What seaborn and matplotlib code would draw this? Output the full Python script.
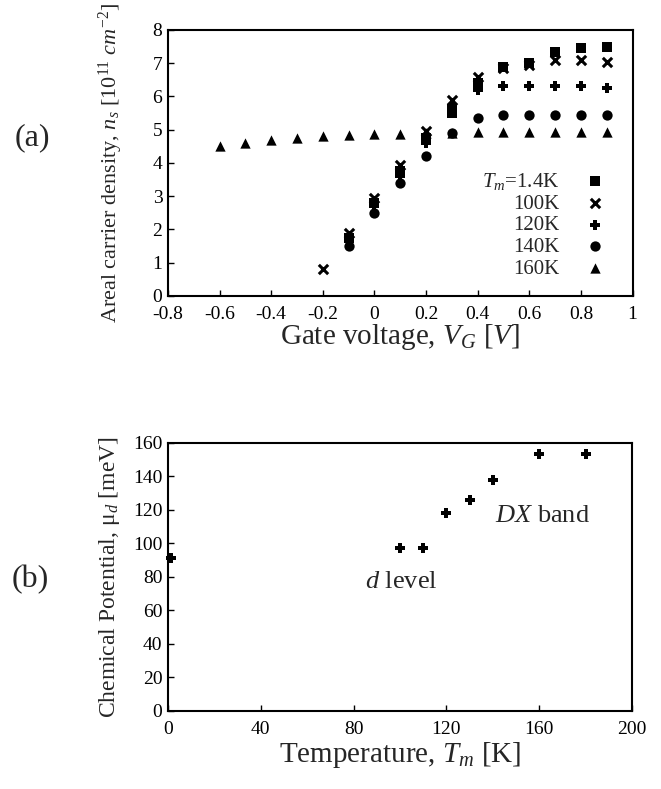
import matplotlib
matplotlib.use("Agg")
import matplotlib.pyplot as plt
import seaborn as sns

# --- (a) carrier density vs gate voltage, one list per cooling temperature ---
vg_14 = [-0.1, 0.0, 0.1, 0.2, 0.3, 0.4, 0.5, 0.6, 0.7, 0.8, 0.9]
ns_14 = [1.75, 2.8, 3.75, 4.75, 5.5, 6.4, 6.9, 7.0, 7.35, 7.45, 7.5]
vg_100 = [-0.2, -0.1, 0.0, 0.1, 0.2, 0.3, 0.4, 0.5, 0.6, 0.7, 0.8, 0.9]
ns_100 = [0.8, 1.9, 2.95, 3.95, 4.95, 5.9, 6.6, 6.85, 6.95, 7.1, 7.1, 7.05]
vg_120 = [-0.1, 0.0, 0.1, 0.2, 0.3, 0.4, 0.5, 0.6, 0.7, 0.8, 0.9]
ns_120 = [1.7, 2.7, 3.6, 4.6, 5.7, 6.2, 6.3, 6.3, 6.3, 6.3, 6.25]
vg_140 = [-0.1, 0.0, 0.1, 0.2, 0.3, 0.4, 0.5, 0.6, 0.7, 0.8, 0.9]
ns_140 = [1.5, 2.5, 3.4, 4.2, 4.9, 5.35, 5.45, 5.45, 5.45, 5.45, 5.45]
vg_160 = [-0.6, -0.5, -0.4, -0.3, -0.2, -0.1, 0.0, 0.1, 0.2, 0.3, 0.4, 0.5, 0.6, 0.7, 0.8, 0.9]
ns_160 = [4.5, 4.6, 4.7, 4.75, 4.8, 4.85, 4.87, 4.88, 4.9, 4.9, 4.93, 4.93, 4.93, 4.93, 4.93, 4.93]

labels_a = [r"$T_m$=1.4K", "100K", "120K", "140K", "160K"]

# --- (b) chemical potential vs cooling temperature ---
temp_b = [1.4, 100, 110, 120, 130, 140, 160, 180]
mu_b = [91, 97, 97, 118, 126, 138, 153, 153]

sns.set_style("ticks")
plt.rcParams['font.family'] = ['Liberation Serif', 'DejaVu Serif']
plt.rcParams['mathtext.fontset'] = 'custom'
plt.rcParams['mathtext.rm'] = 'Liberation Serif'
plt.rcParams['mathtext.it'] = 'Liberation Serif:italic'
plt.rcParams['axes.unicode_minus'] = False
plt.rcParams['xtick.direction'] = 'in'
plt.rcParams['ytick.direction'] = 'in'

fig = plt.figure(figsize=(6.61, 7.89), dpi=100)
ax1 = fig.add_axes([0.254, 0.625, 0.703, 0.337])
ax2 = fig.add_axes([0.254, 0.099, 0.702, 0.340])

series = [
    (vg_14, ns_14, 's', 50, 0),
    (vg_100, ns_100, 'x', 45, 2.2),
    (vg_120, ns_120, 'P', 55, 0),
    (vg_140, ns_140, 'o', 55, 0),
    (vg_160, ns_160, '^', 55, 0),
]
for (xs, ys, mk, size, lw), lab in zip(series, labels_a):
    sns.scatterplot(x=xs, y=ys, marker=mk, s=size, color='black',
                    linewidth=lw, edgecolor='black', label=lab, ax=ax1, zorder=3)

ax1.set_xlim(-0.8, 1.0)
ax1.set_ylim(0, 8)
ax1.set_xticks([-0.8, -0.6, -0.4, -0.2, 0, 0.2, 0.4, 0.6, 0.8, 1.0])
ax1.set_xticklabels(["-0.8", "-0.6", "-0.4", "-0.2", "0", "0.2", "0.4", "0.6", "0.8", "1"])
ax1.set_yticks(range(0, 9))
ax1.set_xlabel(r"Gate voltage, $V_G$ [$V$]", fontsize=21)
ax1.set_ylabel(r"Areal carrier density, $n_s$ [10$^{11}$ $cm^{-2}$]", fontsize=16)
ax1.xaxis.set_label_coords(0.5, -0.1)
ax1.yaxis.set_label_coords(-0.092, 0.5)
ax1.legend(loc='upper right', bbox_to_anchor=(0.942, 0.47), frameon=False,
           markerfirst=False, fontsize=15, handlelength=1.0, handletextpad=1.2,
           labelspacing=0.1, borderpad=0, borderaxespad=0)

sns.scatterplot(x=temp_b, y=mu_b, marker='P', s=55, color='black', linewidth=0,
                ax=ax2, zorder=3, clip_on=False)
ax2.set_xlim(0, 200)
ax2.set_ylim(0, 160)
ax2.set_xticks(range(0, 201, 40))
ax2.set_yticks(range(0, 161, 20))
ax2.set_xlabel(r"Temperature, $T_m$ [K]", fontsize=21)
ax2.set_ylabel(r"Chemical Potential, μ$_d$ [meV]", fontsize=17)
ax2.xaxis.set_label_coords(0.5, -0.11)
ax2.yaxis.set_label_coords(-0.099, 0.5)
ax2.text(85, 77, r"$d$ level", fontsize=19, va='center', ha='left')
ax2.text(141, 116, r"$DX$ band", fontsize=19, va='center', ha='left')

for ax in (ax1, ax2):
    for sp in ax.spines.values():
        sp.set_linewidth(1.5)
        sp.set_color('black')
    ax.tick_params(labelsize=14, length=4, width=1, colors='black')
    ax.tick_params(axis='x', pad=7)
    ax.tick_params(axis='y', pad=4)

fig.text(15 / 661, 1 - 138 / 789, "(a)", fontsize=23, va='center', ha='left')
fig.text(12 / 661, 1 - 580 / 789, "(b)", fontsize=23, va='center', ha='left')

fig.savefig("out.png", dpi=100)
